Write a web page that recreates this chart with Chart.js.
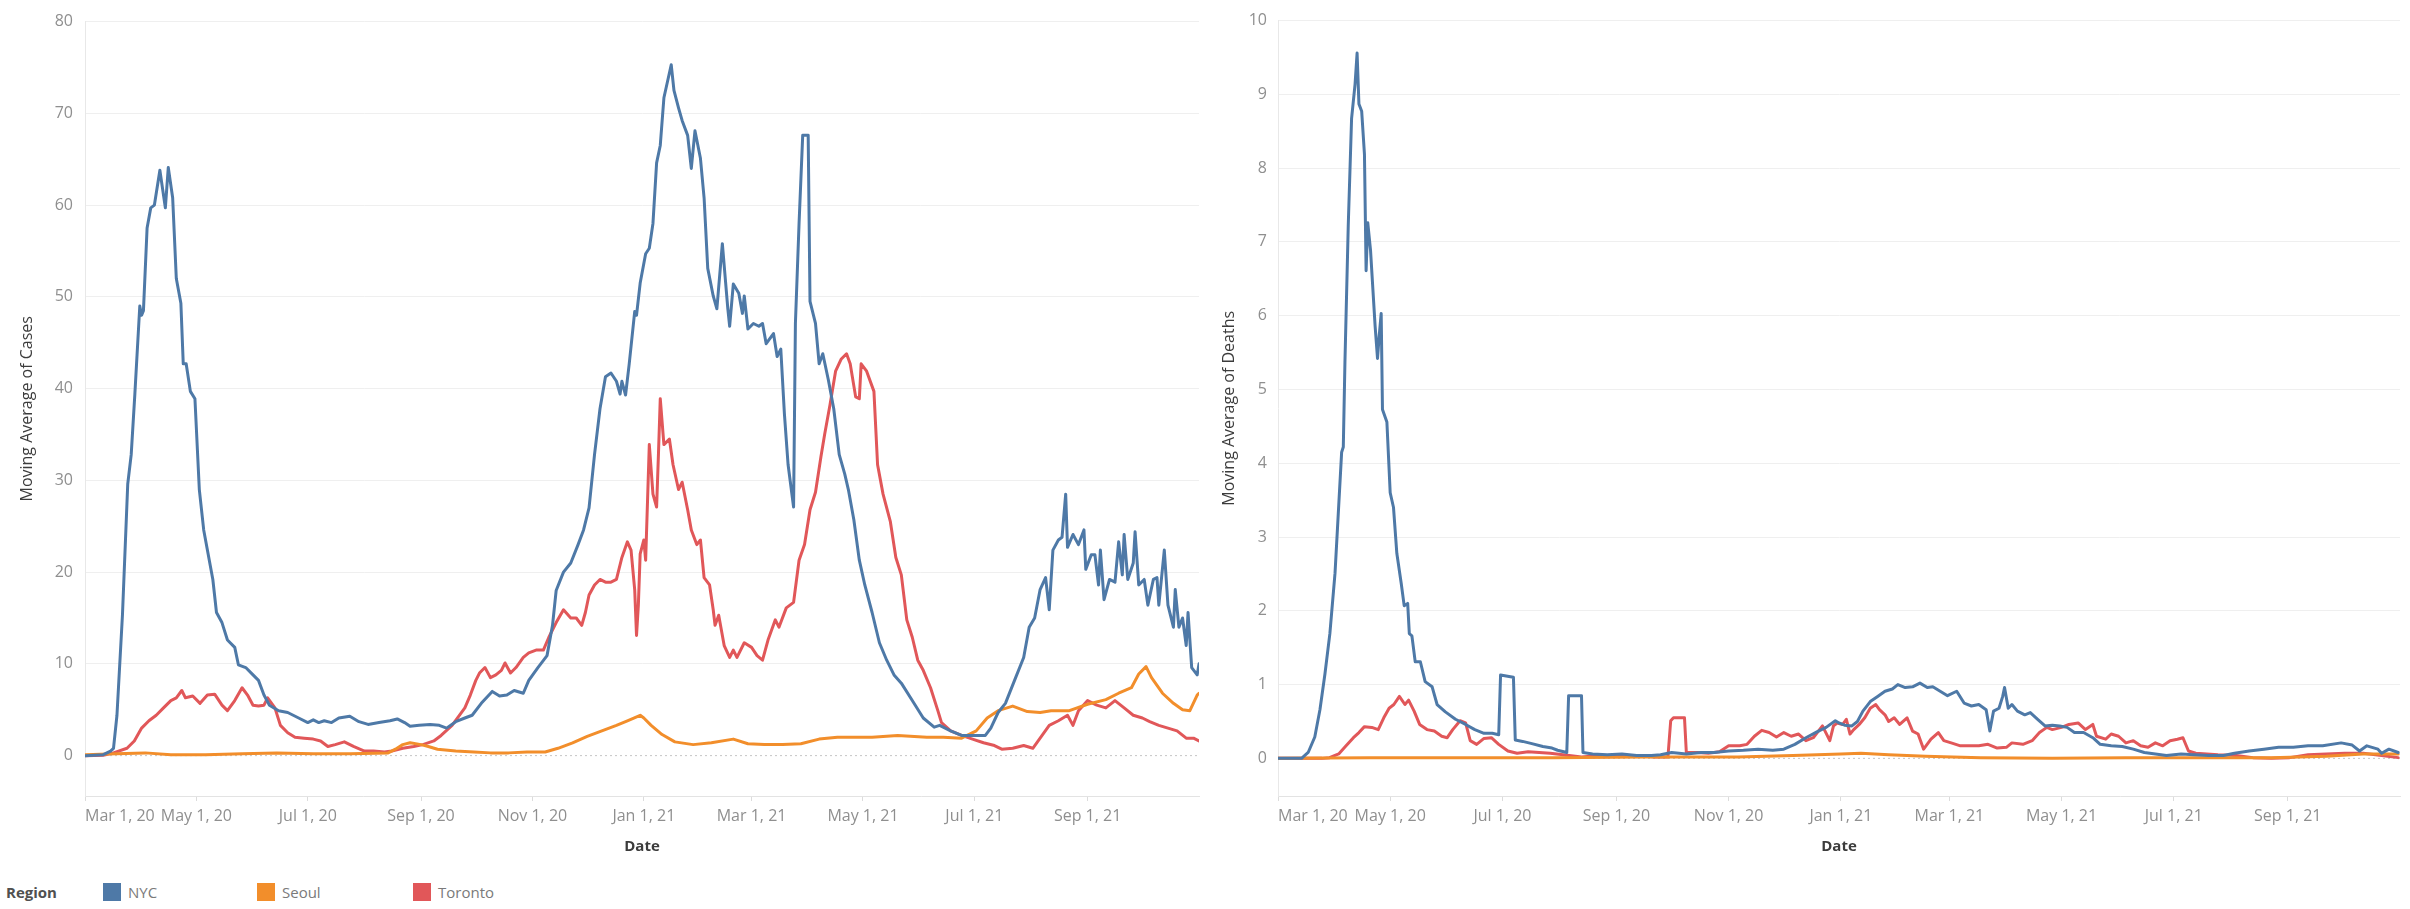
<!DOCTYPE html>
<html>
<head>
<meta charset="utf-8">
<title>Moving averages — NYC, Seoul, Toronto</title>
<script src="https://cdn.jsdelivr.net/npm/chart.js@4.4.1/dist/chart.umd.min.js"></script>
<style>
  html, body { margin: 0; padding: 0; background: #fff; }
  body { width: 2410px; height: 909px; position: relative; overflow: hidden; font-family: 'Open Sans', sans-serif; }
  .pane { position: absolute; top: 0; height: 870px; }
  #leftPane { left: 0; width: 1205px; }
  #rightPane { left: 1205px; width: 1205px; }
  .legend { position: absolute; left: 6px; top: 880px; height: 24px; display: flex; align-items: center; font-size: 15px; }
  .legend .title { font-weight: 700; color: #505050; width: 97px; }
  .legend .item { display: flex; align-items: center; color: #7a7a7a; width: 154px; }
  .legend .item:nth-child(3) { width: 156px; }
  .legend .sw { width: 18px; height: 18px; margin-right: 7px; }
</style>
</head>
<body>
<div class="pane" id="leftPane"><canvas id="chartCases"></canvas></div>
<div class="pane" id="rightPane"><canvas id="chartDeaths"></canvas></div>
<div class="legend" id="legend"></div>

<script>
// x values are days since Mar 1, 2020
const tickDays = [0, 61, 122, 184, 245, 306, 365, 426, 487, 549];
const tickLabels = ['Mar 1, 20', 'May 1, 20', 'Jul 1, 20', 'Sep 1, 20', 'Nov 1, 20',
                    'Jan 1, 21', 'Mar 1, 21', 'May 1, 21', 'Jul 1, 21', 'Sep 1, 21'];
const lastDay = 610;

const regions = ['NYC', 'Seoul', 'Toronto'];
const regionColors = ['#4e79a7', '#f28e2b', '#e15759'];

const casesTicks = [0, 10, 20, 30, 40, 50, 60, 70, 80];
const deathsTicks = [0, 1, 2, 3, 4, 5, 6, 7, 8, 9, 10];

// Moving Average of Cases: [day, value]
const nycCases = [[0,0],[10,0.1],[14,0.5],[15.6,0.8],[17.5,4.4],[20.5,15.3],[23.4,29.6],[25.3,32.8],[27.3,39.4],[30,49],[31,48],[32,48.5],[34,57.5],[36,59.7],[38,60],[41,63.8],[44,59.7],[45.6,64.1],[48,60.8],[50,52],[52.5,49.3],[53.8,42.7],[55.4,42.7],[57.7,39.7],[60.2,38.9],[62.6,29],[65,24.6],[67.5,21.9],[70,19.2],[72,15.6],[75,14.5],[78,12.6],[82,11.8],[84,9.9],[88,9.6],[92,8.8],[95,8.2],[98,6.6],[101,5.5],[106,4.9],[111,4.7],[117,4.1],[122,3.6],[125,3.9],[128,3.6],[131,3.8],[135,3.6],[139,4.1],[145,4.3],[150,3.7],[155,3.4],[161,3.6],[167,3.8],[171,4.0],[175,3.6],[178,3.2],[183,3.3],[189,3.4],[194,3.3],[198,3.0],[203,3.7],[208,4.1],[212,4.4],[217,5.7],[223,7.0],[227,6.5],[231,6.6],[235,7.1],[240,6.8],[243,8.2],[248,9.6],[253,10.9],[256,14.2],[258,18],[262,20],[266,21],[270,23],[273,24.6],[276,27],[279,32.8],[282,37.8],[285,41.3],[288,41.7],[291,40.8],[293,39.4],[294,40.8],[296,39.3],[298,42.7],[301,48.4],[302,48],[304,51.5],[307,54.7],[309,55.3],[311,58],[313,64.6],[315,66.5],[317,71.7],[321,75.3],[322.5,72.5],[325,70.6],[327,69.2],[330,67.6],[332,64],[334,68.1],[337,65.1],[339,60.8],[341,53.1],[344,50.1],[346,48.7],[349,55.8],[352,48.7],[353,46.8],[355,51.4],[358,50.4],[360,48.2],[361,50.1],[363,46.5],[366,47.1],[369,46.8],[371,47.1],[373,44.9],[377,46],[379,43.5],[381,44.3],[383,37.2],[385,31.7],[388,27.1],[389,47.1],[391,58],[393,67.6],[396,67.6],[397,49.5],[400,47.1],[402,42.7],[404,43.8],[407,41],[410,37.8],[413,32.8],[416,30.7],[418,29],[421,25.7],[424,21.3],[427,18.6],[431,15.6],[435,12.3],[439,10.4],[443,8.8],[447,7.9],[453,6.0],[459,4.1],[465,3.1],[468,3.3],[474,2.7],[480,2.2],[486,2.2],[493,2.2],[496,3.0],[500,4.7],[504,5.7],[509,8.2],[514,10.7],[517,14],[520,15],[523,18.1],[526,19.4],[528,15.9],[530,22.4],[533,23.5],[535,23.8],[537,28.5],[538,22.7],[541,24.1],[544,23],[547,24.6],[548,20.3],[551,21.9],[553,21.9],[555,18.6],[556,22.4],[558,17],[561,19.2],[564,18.9],[566,23.3],[568,19.7],[569,24.1],[571,19.2],[574,21],[575,24.4],[577,18.6],[580,19.2],[582,16.4],[585,19.2],[587,19.4],[588,16.4],[591,22.4],[593,16.4],[596,14],[597,18.1],[599,14],[601,15],[603,12],[604,15.6],[606,9.6],[609,8.8],[610,10]];

const seoulCases = [[0,0.1],[17,0.2],[33,0.3],[47,0.1],[66,0.1],[86,0.2],[105,0.3],[125,0.2],[145,0.2],[166,0.3],[170,0.7],[174,1.2],[178,1.4],[184,1.2],[188,1.0],[193,0.7],[203,0.5],[213,0.4],[222,0.3],[232,0.3],[242,0.4],[252,0.4],[259,0.8],[267,1.4],[275,2.1],[283,2.7],[291,3.3],[297,3.8],[304,4.4],[306,4.1],[310,3.3],[316,2.3],[323,1.5],[333,1.2],[343,1.4],[355,1.8],[363,1.3],[372,1.2],[382,1.2],[392,1.3],[402,1.8],[412,2.0],[421,2.0],[431,2.0],[445,2.2],[461,2.0],[470,2.0],[480,1.9],[488,2.7],[494,4.1],[500,4.9],[508,5.4],[516,4.8],[523,4.7],[529,4.9],[539,4.9],[549,5.6],[559,6.1],[566,6.8],[573,7.4],[577,8.9],[581,9.7],[584,8.5],[590,6.8],[596,5.7],[601,5.0],[605,4.9],[609,6.6],[610,6.8]];

const torontoCases = [[0,0],[10,0.05],[15.6,0.3],[23,0.8],[27,1.6],[31,3.0],[35,3.8],[39,4.4],[43,5.2],[47,6.0],[50,6.3],[53,7.1],[55,6.3],[59,6.5],[63,5.7],[67,6.6],[71,6.7],[75,5.5],[78,4.9],[82,6.0],[86,7.4],[89,6.6],[92,5.5],[95,5.4],[98,5.5],[100,6.3],[104,5.2],[107,3.3],[111,2.5],[115,2.0],[120,1.9],[125,1.8],[129,1.6],[133,1.0],[137,1.2],[142,1.5],[147,1.0],[153,0.5],[158,0.5],[164,0.4],[168,0.5],[174,0.8],[180,1.0],[185,1.2],[191,1.6],[195,2.2],[201,3.3],[205,4.4],[208,5.2],[211,6.6],[214,8.2],[216,9.0],[219,9.6],[222,8.5],[225,8.8],[228,9.3],[230,10.1],[233,9.0],[236,9.6],[240,10.7],[243,11.2],[247,11.5],[251,11.5],[254,12.9],[258,14.5],[262,15.9],[266,15],[269,15],[272,14.2],[274,15.6],[276,17.5],[279,18.6],[282,19.2],[285,18.9],[288,18.9],[291,19.2],[294,21.6],[297,23.3],[299,22.4],[301,18.1],[302,13.1],[303,16.4],[304,22],[306,23.5],[307,21.3],[309,33.9],[311,28.5],[313,27.1],[314,32.8],[315,38.9],[317,33.9],[320,34.5],[322,31.7],[325,29],[327,29.8],[330,26.8],[332,24.6],[335,23],[337,23.5],[339,19.4],[342,18.6],[344,15.9],[345,14.2],[347,15.3],[350,12],[353,10.7],[355,11.5],[357,10.7],[361,12.3],[365,11.8],[368,10.9],[371,10.4],[374,12.6],[378,14.8],[380,14],[384,16.1],[388,16.7],[391,21.3],[394,23],[397,26.8],[400,28.7],[403,32.6],[405,35],[408,38.3],[411,41.9],[414,43.2],[417,43.8],[419,42.7],[422,39.1],[424,38.9],[425,42.7],[428,41.9],[432,39.7],[434,31.7],[437,28.5],[441,25.5],[444,21.6],[447,19.7],[450,14.8],[453,12.9],[456,10.4],[459,9.3],[463,7.4],[467,4.9],[469,3.6],[474,2.7],[480,2.2],[486,1.8],[492,1.4],[498,1.1],[502,0.7],[508,0.8],[514,1.1],[519,0.8],[523,1.9],[528,3.3],[533,3.8],[538,4.4],[541,3.3],[544,4.9],[549,6.0],[554,5.5],[559,5.2],[564,6.0],[569,5.2],[574,4.4],[579,4.1],[583,3.7],[588,3.3],[593,3.0],[598,2.7],[603,1.9],[607,1.9],[610,1.6]];

// Moving Average of Deaths: [day, value]
const nycDeaths = [[0,0],[12.8,0],[16.4,0.08],[20,0.29],[22.8,0.66],[25.5,1.14],[28.2,1.69],[31,2.51],[32.8,3.33],[34.6,4.15],[35.5,4.22],[36.4,5.38],[38.2,7.23],[40,8.67],[41.9,9.14],[43,9.56],[44,8.87],[45.5,8.77],[47,8.19],[47.9,6.61],[48.8,7.26],[50.3,6.89],[52.8,5.86],[54.1,5.42],[55,5.72],[56.1,6.03],[56.8,4.73],[59.2,4.56],[61,3.6],[62.8,3.4],[64.6,2.78],[67,2.37],[68.6,2.07],[70.5,2.1],[71.4,1.69],[72.8,1.66],[74.6,1.31],[77.4,1.31],[80,1.04],[83.8,0.97],[86.5,0.73],[91,0.63],[96.5,0.53],[102,0.46],[107,0.39],[112,0.34],[116.5,0.34],[120,0.32],[121,1.13],[125.6,1.11],[128,1.1],[129,0.25],[133,0.23],[138,0.2],[144,0.16],[149,0.14],[152,0.11],[157,0.08],[158,0.85],[165,0.85],[165.8,0.08],[171,0.06],[179,0.05],[187,0.06],[195,0.04],[203,0.04],[208,0.05],[214,0.08],[222,0.06],[230,0.08],[237,0.08],[245,0.1],[253,0.11],[261,0.125],[269,0.11],[275,0.125],[281,0.19],[287,0.28],[293,0.36],[298,0.42],[303,0.51],[305,0.48],[308,0.45],[312,0.44],[315,0.5],[318,0.64],[322,0.77],[326,0.84],[330,0.91],[334,0.94],[337,1.0],[341,0.96],[345,0.97],[349,1.02],[353,0.96],[356,0.97],[360,0.91],[364,0.85],[369,0.91],[373,0.75],[377,0.71],[381,0.73],[385,0.66],[387,0.37],[389,0.64],[392,0.68],[394,0.84],[395,0.96],[397,0.68],[399,0.73],[402,0.64],[406,0.59],[409,0.62],[413,0.53],[417,0.44],[421,0.45],[425,0.44],[429,0.42],[433,0.35],[438,0.35],[443,0.28],[447,0.19],[453,0.17],[459,0.16],[465,0.125],[471,0.08],[477,0.06],[483,0.04],[491,0.06],[498,0.05],[506,0.04],[514,0.04],[520,0.07],[528,0.1],[536,0.125],[544,0.15],[552,0.15],[560,0.17],[568,0.17],[578,0.21],[584,0.18],[588,0.1],[592,0.17],[598,0.125],[600,0.07],[604,0.125],[609,0.08]];

const seoulDeaths = [[0,0],[50,0.01],[100,0.01],[150,0.01],[200,0.02],[250,0.02],[280,0.04],[306,0.06],[317,0.07],[332,0.05],[352,0.03],[382,0.01],[421,0.0],[461,0.01],[500,0.01],[540,0.01],[570,0.03],[590,0.06],[609,0.06]];

const torontoDeaths = [[0,0],[24,0],[28,0.01],[33,0.06],[37,0.17],[41,0.28],[44,0.35],[47,0.43],[51,0.42],[54.5,0.39],[57.5,0.55],[60.4,0.68],[63,0.73],[66,0.84],[69,0.73],[71,0.79],[74,0.64],[77,0.46],[81,0.39],[85,0.37],[89,0.3],[92,0.28],[95,0.39],[99,0.51],[102,0.48],[104.5,0.24],[108,0.19],[112,0.27],[116,0.28],[120,0.19],[125,0.1],[130,0.07],[136,0.09],[142,0.08],[148,0.07],[155,0.05],[165,0.02],[175,0.04],[185,0.04],[195,0.04],[205,0.02],[212,0.02],[213.5,0.51],[215,0.55],[221,0.55],[222,0.08],[228,0.08],[234,0.07],[240,0.09],[245,0.17],[251,0.17],[255,0.19],[259,0.3],[263,0.38],[267,0.35],[271,0.29],[275,0.35],[279,0.3],[283,0.33],[287,0.24],[291,0.28],[296,0.44],[300,0.24],[302,0.44],[304,0.48],[307,0.46],[309,0.53],[311,0.33],[313,0.39],[316,0.46],[319,0.55],[322,0.68],[325,0.73],[327,0.66],[330,0.59],[332,0.5],[335,0.55],[338,0.46],[342,0.55],[345,0.37],[348,0.33],[351,0.125],[355,0.26],[359,0.35],[362,0.24],[366,0.21],[371,0.17],[376,0.17],[381,0.17],[386,0.19],[391,0.14],[396,0.15],[399,0.21],[405,0.19],[410,0.24],[414,0.35],[418,0.42],[421,0.39],[426,0.42],[430,0.46],[435,0.48],[439,0.39],[443,0.46],[445,0.3],[450,0.26],[453,0.33],[457,0.3],[461,0.21],[465,0.24],[469,0.17],[473,0.15],[477,0.21],[481,0.17],[485,0.24],[489,0.26],[492,0.28],[495,0.1],[499,0.07],[505,0.06],[511,0.05],[521,0.04],[530,0.01],[540,0.0],[550,0.01],[560,0.05],[570,0.06],[580,0.07],[590,0.07],[600,0.04],[609,0.01]];

const FONT = "'Open Sans', sans-serif";
const TICK_GREY = '#8f8f8f';

function toPoints(pairs) {
  return pairs.map(function (p) { return { x: p[0], y: p[1] }; });
}

function lineSet(label, pairs, color) {
  return {
    label: label,
    data: toPoints(pairs),
    borderColor: color,
    backgroundColor: color,
    borderWidth: 3,
    pointRadius: 0,
    tension: 0,
    borderJoinStyle: 'round',
    borderCapStyle: 'round',
    fill: false
  };
}

// dotted zero line, drawn under the series
function zeroSet() {
  return {
    label: 'zero',
    data: [{ x: 0, y: 0 }, { x: lastDay, y: 0 }],
    borderColor: '#c4c4c4',
    borderWidth: 1,
    borderDash: [2, 3],
    pointRadius: 0,
    order: 10
  };
}

function makeChart(id, series, opts) {
  const datasets = series.map(function (s, i) { return lineSet(regions[i], s, regionColors[i]); });
  datasets.push(zeroSet());

  return new Chart(document.getElementById(id), {
    type: 'line',
    data: { datasets: datasets },
    options: {
      responsive: true,
      maintainAspectRatio: false,
      animation: false,
      layout: { padding: { top: opts.padTop, right: opts.padRight, left: 0, bottom: 0 } },
      plugins: { legend: { display: false }, tooltip: { enabled: false } },
      scales: {
        x: {
          type: 'linear',
          min: 0,
          max: lastDay,
          afterBuildTicks: function (scale) {
            scale.ticks = tickDays.map(function (d) { return { value: d }; }).concat([{ value: lastDay }]);
          },
          afterFit: function (scale) { scale.height = 74; },
          ticks: {
            autoSkip: false,
            maxRotation: 0,
            minRotation: 0,
            align: 'inner',
            padding: 6,
            color: TICK_GREY,
            font: { family: FONT, size: 16 },
            callback: function (v, i) { return tickLabels[i] || ''; }
          },
          grid: {
            drawOnChartArea: false,
            drawTicks: true,
            tickLength: 5,
            color: function (ctx) { return ctx.index === tickDays.length ? 'rgba(0,0,0,0)' : '#dcdcdc'; }
          },
          border: { display: true, color: '#e3e3e3', width: 1 },
          title: {
            display: true,
            text: 'Date',
            color: '#3c3c3c',
            font: { family: FONT, size: 15, weight: '700' },
            padding: { top: 0, bottom: 14 }
          }
        },
        y: {
          min: opts.yMin,
          max: opts.yMax,
          afterBuildTicks: function (scale) {
            scale.ticks = opts.yTicks.map(function (v) { return { value: v }; });
          },
          afterFit: function (scale) { scale.width = opts.yWidth; },
          ticks: {
            padding: opts.yPad,
            color: TICK_GREY,
            font: { family: FONT, size: 16 }
          },
          grid: {
            drawTicks: false,
            lineWidth: 1,
            color: function (ctx) { return ctx.tick && ctx.tick.value === 0 ? 'rgba(0,0,0,0)' : '#efefef'; }
          },
          border: { display: true, color: '#e8e8e8', width: 1 },
          title: {
            display: true,
            text: opts.yTitle,
            color: '#3c3c3c',
            font: { family: FONT, size: 16 },
            padding: { top: opts.yTitlePad, bottom: 0 }
          }
        }
      }
    }
  });
}

makeChart('chartCases', [nycCases, seoulCases, torontoCases], {
  yTitle: 'Moving Average of Cases',
  yMin: -4.4, yMax: 80, yTicks: casesTicks,
  yWidth: 85, yPad: 12, yTitlePad: 18,
  padTop: 9, padRight: 6
});

makeChart('chartDeaths', [nycDeaths, seoulDeaths, torontoDeaths], {
  yTitle: 'Moving Average of Deaths',
  yMin: -0.51, yMax: 10, yTicks: deathsTicks,
  yWidth: 73, yPad: 11, yTitlePad: 15,
  padTop: 14, padRight: 10
});

// Region legend
const legend = document.getElementById('legend');
let html = '<span class="title">Region</span>';
regions.forEach(function (r, i) {
  html += '<span class="item"><span class="sw" style="background:' + regionColors[i] + '"></span>' + r + '</span>';
});
legend.innerHTML = html;
</script>
</body>
</html>
